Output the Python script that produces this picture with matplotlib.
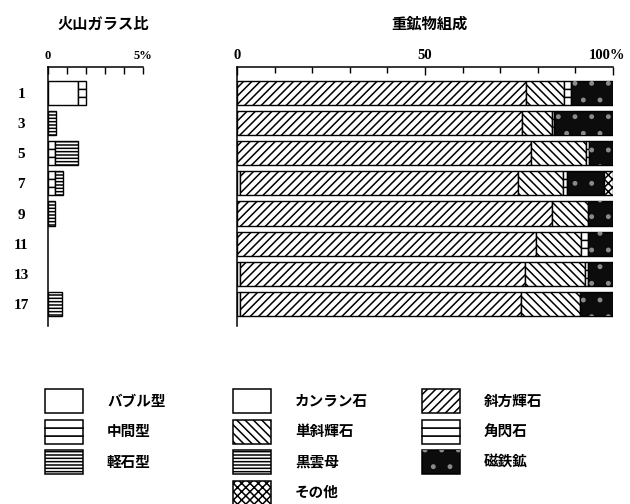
import matplotlib
matplotlib.use('Agg')
import matplotlib.pyplot as plt
import matplotlib.transforms as mtrans
from matplotlib.patches import Patch, Rectangle
from matplotlib.legend_handler import HandlerBase
import numpy as np

plt.rcParams['font.family'] = ['Noto Sans CJK JP', 'DejaVu Sans']
plt.rcParams['hatch.linewidth'] = 1.1

# ---------------- data ----------------
samples = ['1', '3', '5', '7', '9', '11', '13', '17']

# 火山ガラス比 (%)
glass_bubble = [1.6, 0, 0, 0, 0, 0, 0, 0]
glass_mid = [0.4, 0, 0.4, 0.4, 0, 0, 0, 0]
glass_pumice = [0, 0.45, 1.2, 0.4, 0.4, 0, 0, 0.75]

# 重鉱物組成 (%)
olivine = [0, 0, 0, 0.8, 0, 0, 0.8, 0.8]
opx = [76.9, 75.7, 78.1, 74.0, 83.7, 79.4, 75.8, 74.6]
cpx = [10.1, 8.2, 14.7, 12.0, 9.7, 12.1, 16.0, 15.8]
hornblende = [1.8, 0.4, 0.9, 0.9, 0, 1.9, 0.8, 0]
biotite = [0, 0, 0, 0, 0, 0, 0, 0]
magnetite = [11.2, 15.7, 6.3, 10.0, 6.6, 6.6, 6.6, 8.8]
others = [0, 0, 0, 2.3, 0, 0, 0, 0]

glass_ticks = [0, 5]
glass_ticklabels = ['0', '5%']
heavy_ticks = [0, 50, 100]
heavy_ticklabels = ['0', '50', '100%']

# ---------------- styles ----------------
LW = 1.0
H = 0.8
styles = {
    'bubble': dict(kind='plain', facecolor='white', hatch=None),
    'mid': dict(kind='thirds', facecolor='white', hatch=None),
    'pumice': dict(kind='plain', facecolor='white', hatch='-----'),
    'olivine': dict(kind='plain', facecolor='white', hatch=None),
    'opx': dict(kind='plain', facecolor='white', hatch='////'),
    'cpx': dict(kind='plain', facecolor='white', hatch='\\\\\\\\'),
    'hbl': dict(kind='thirds', facecolor='white', hatch=None),
    'bio': dict(kind='plain', facecolor='white', hatch='-----'),
    'mag': dict(kind='dots', facecolor='#0c0c0c', hatch=None),
    'other': dict(kind='plain', facecolor='white', hatch='xxxx'),
}
DOT_COLOR = '#8a8a8a'


def draw_stack(ax, series):
    y = np.arange(len(samples))
    left = np.zeros(len(samples))
    for key, vals in series:
        v = np.asarray(vals, dtype=float)
        idx = v > 0
        st = styles[key]
        if idx.any():
            if st['kind'] == 'thirds':
                for off in (-H / 3, 0, H / 3):
                    ax.barh(y[idx] + off, v[idx], left=left[idx], height=H / 3,
                            facecolor=st['facecolor'], edgecolor='black', linewidth=LW)
            elif st['kind'] == 'dots':
                ax.barh(y[idx], v[idx], left=left[idx], height=H,
                        facecolor=st['facecolor'], edgecolor='black', linewidth=LW)
                ax.barh(y[idx], v[idx], left=left[idx], height=H,
                        facecolor='none', edgecolor=DOT_COLOR, hatch='.', linewidth=0)
            else:
                ax.barh(y[idx], v[idx], left=left[idx], height=H,
                        facecolor=st['facecolor'], edgecolor='black',
                        hatch=st['hatch'], linewidth=LW)
        left += v


def style_axes(ax):
    ax.set_ylim(len(samples) - 1 + 0.73, -0.86)
    ax.spines['right'].set_visible(False)
    ax.spines['bottom'].set_visible(False)
    ax.spines['top'].set_linewidth(1.1)
    ax.spines['left'].set_linewidth(1.1)
    ax.xaxis.tick_top()
    ax.set_facecolor('none')


fig = plt.figure(figsize=(6.3, 5.04), dpi=100)

# left: 火山ガラス比
axL = fig.add_axes([47.5 / 630, 1 - 326 / 504, 95.2 / 630, 259 / 504])
draw_stack(axL, [('bubble', glass_bubble), ('mid', glass_mid), ('pumice', glass_pumice)])
axL.set_xlim(0, 5)
style_axes(axL)
axL.set_xticks(glass_ticks)
axL.set_xticklabels(glass_ticklabels, family='Liberation Serif', fontweight='bold', fontsize=9)
axL.set_xticks([1, 2, 3, 4], minor=True)
axL.tick_params(axis='x', which='both', direction='in', length=5, width=1.0, pad=3.5)
axL.set_yticks(np.arange(len(samples)))
axL.set_yticklabels(samples, family='Liberation Serif', fontsize=11, fontweight='bold')
axL.tick_params(axis='y', length=0, pad=19)
for t in axL.get_yticklabels():
    t.set_horizontalalignment('center')

# right: 重鉱物組成
axR = fig.add_axes([237 / 630, 1 - 326 / 504, 376 / 630, 259 / 504])
draw_stack(axR, [('olivine', olivine), ('opx', opx), ('cpx', cpx), ('hbl', hornblende),
                 ('bio', biotite), ('mag', magnetite), ('other', others)])
axR.set_xlim(0, 100)
style_axes(axR)
axR.set_xticks(heavy_ticks)
axR.set_xticklabels(heavy_ticklabels, family='Liberation Serif', fontweight='bold', fontsize=10.5)
axR.set_xticks([10, 20, 30, 40, 60, 70, 80, 90], minor=True)
axR.tick_params(axis='x', which='major', direction='in', length=6, width=1.0, pad=3.5)
axR.tick_params(axis='x', which='minor', direction='in', length=4, width=1.0)
axR.set_yticks([])
lab = axR.get_xticklabels()[-1]
lab.set_transform(lab.get_transform() + mtrans.ScaledTranslation(-5.5 / 100, 0, fig.dpi_scale_trans))

# titles
fig.text(103 / 630, 1 - 24 / 504, '火山ガラス比', ha='center', va='center', fontsize=11, fontweight='bold')
fig.text(429 / 630, 1 - 24 / 504, '重鉱物組成', ha='center', va='center', fontsize=11, fontweight='bold')


# ---------------- legend ----------------
class HandlerStyled(HandlerBase):
    def create_artists(self, legend, orig_handle, xdescent, ydescent, width, height, fontsize, trans):
        st = styles[orig_handle.get_label_key()]
        x0, y0 = -xdescent, -ydescent
        arts = []
        if st['kind'] == 'thirds':
            for i in range(3):
                arts.append(Rectangle((x0, y0 + i * height / 3), width, height / 3,
                                      facecolor='white', edgecolor='black', linewidth=1.1))
        elif st['kind'] == 'dots':
            arts.append(Rectangle((x0, y0), width, height, facecolor=st['facecolor'],
                                  edgecolor='black', linewidth=1.1))
            arts.append(Rectangle((x0, y0), width, height, facecolor='none',
                                  edgecolor=DOT_COLOR, hatch='.', linewidth=0))
        else:
            arts.append(Rectangle((x0, y0), width, height, facecolor=st['facecolor'],
                                  edgecolor='black', hatch=st['hatch'], linewidth=1.1))
        for a in arts:
            a.set_transform(trans)
        return arts


class KeyPatch(Patch):
    def __init__(self, key, **kw):
        super().__init__(**kw)
        self._key = key

    def get_label_key(self):
        return self._key


legend_cols = [
    [('bubble', 'バブル型'), ('mid', '中間型'), ('pumice', '軽石型')],
    [('olivine', 'カンラン石'), ('cpx', '単斜輝石'), ('bio', '黒雲母'), ('other', 'その他')],
    [('opx', '斜方輝石'), ('hbl', '角閃石'), ('mag', '磁鉄鉱')],
]
col_x = [45, 233, 422]
fs = 10.5
fs_px = fs * 100 / 72
box_h = 24 / fs_px
hh = (box_h - 0.245) / 0.65
for cx, col in zip(col_x, legend_cols):
    handles = [KeyPatch(k) for k, _ in col]
    labels = [l for _, l in col]
    leg = fig.legend(handles, labels, loc='upper left',
                     bbox_to_anchor=(cx / 630, 1 - 389 / 504),
                     frameon=False, borderpad=0, borderaxespad=0,
                     handlelength=38 / fs_px, handleheight=hh,
                     labelspacing=6.5 / fs_px, handletextpad=24 / fs_px,
                     prop=dict(family=['Noto Sans CJK JP', 'DejaVu Sans'], weight='bold', size=fs),
                     handler_map={KeyPatch: HandlerStyled()})

fig.savefig('out.png', dpi=100)
